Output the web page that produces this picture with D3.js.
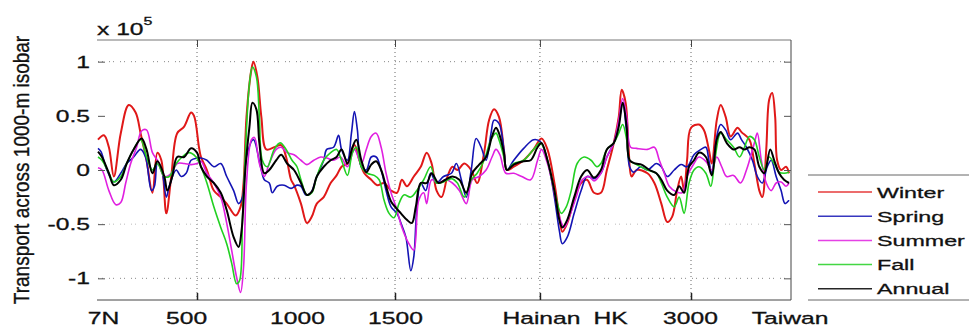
<!DOCTYPE html>
<html>
<head>
<meta charset="utf-8">
<script src="https://cdn.jsdelivr.net/npm/d3@7"></script>
<style>
  body { margin: 0; background: #fff; }
  svg text { font-family: "Liberation Sans", Arial, sans-serif; fill: #111; stroke: #111; stroke-width: 0.3px; }
</style>
</head>
<body>
<div id="chart"></div>
<script>
// distance along the 1000-m isobar (km) and transport (x 10^5)
const seriesNames = ["Winter", "Spring", "Summer", "Fall", "Annual"];
const seriesColors = ["#e01818", "#1414b4", "#e020e0", "#22d022", "#000000"];

const winter = [[0,0.28],[30,0.32],[55,0.21],[80,-0.06],[115,0.34],[155,0.6],[190,0.53],[215,0.34],[245,0.09],[275,-0.21],[300,0.16],[320,0.09],[345,-0.4],[370,-0.06],[400,0.34],[435,0.4],[470,0.53],[485,0.5],[510,0.21],[520,0.12],[550,0],[585,-0.19],[620,-0.25],[650,-0.31],[695,-0.42],[720,-0.34],[735,-0.12],[750,0.49],[775,0.93],[785,1.0],[805,0.86],[825,0.49],[850,0.19],[890,0.21],[925,0.23],[950,0.12],[975,-0.09],[990,-0.14],[1025,-0.31],[1055,-0.49],[1080,-0.43],[1105,-0.31],[1140,-0.25],[1175,-0.12],[1205,-0.05],[1230,0.03],[1260,0.06],[1295,0.23],[1320,0.09],[1345,-0.03],[1380,-0.09],[1410,-0.14],[1445,-0.12],[1480,-0.19],[1510,-0.21],[1535,-0.09],[1560,-0.15],[1595,-0.06],[1630,0.03],[1660,0.16],[1685,0.06],[1710,-0.19],[1735,-0.25],[1765,-0.06],[1790,0.03],[1815,0],[1850,0.06],[1885,0],[1915,-0.12],[1950,0.16],[1975,0.46],[2000,0.56],[2025,0.49],[2050,0.19],[2065,0],[2100,0.03],[2150,0.09],[2200,0.19],[2240,0.29],[2270,0.19],[2305,-0.12],[2330,-0.43],[2345,-0.57],[2370,-0.49],[2405,-0.28],[2440,-0.12],[2470,-0.09],[2505,-0.21],[2540,-0.21],[2570,0],[2605,0.25],[2630,0.49],[2645,0.74],[2665,0.62],[2680,0.19],[2695,-0.06],[2720,0],[2775,-0.03],[2810,-0.12],[2845,-0.31],[2875,-0.48],[2900,-0.43],[2925,-0.19],[2945,-0.06],[2960,-0.19],[2975,0.09],[2995,0.39],[3035,0.42],[3060,0.37],[3085,0.19],[3100,0.06],[3125,0.46],[3145,0.6],[3170,0.49],[3195,0.31],[3230,0.39],[3250,0.35],[3290,0.28],[3315,0.06],[3340,-0.19],[3355,-0.25],[3375,0.19],[3390,0.65],[3405,0.71],[3420,0.49],[3430,0.09],[3450,0],[3475,0.03],[3490,-0.03]];

const spring = [[0,0.2],[15,0.17],[45,0],[80,-0.11],[115,-0.03],[145,0.06],[180,0.12],[215,0.19],[240,0.12],[270,-0.19],[285,-0.15],[300,0.06],[325,-0.03],[345,-0.25],[360,-0.15],[395,0],[420,-0.06],[445,-0.03],[470,0.09],[500,0.11],[520,0.11],[550,0.09],[585,0.03],[620,0.06],[650,-0.06],[685,-0.19],[710,-0.31],[730,-0.25],[750,0.12],[785,0.28],[815,0.08],[825,0],[840,-0.09],[865,-0.12],[880,-0.21],[905,-0.15],[940,-0.14],[975,-0.17],[1005,-0.14],[1025,-0.15],[1050,-0.23],[1075,-0.21],[1105,-0.06],[1140,0.09],[1155,0.19],[1190,0.21],[1215,0.32],[1230,0.19],[1260,0.09],[1280,0.34],[1295,0.54],[1310,0.37],[1330,0.03],[1355,0],[1380,0.12],[1405,0.12],[1430,0],[1455,-0.19],[1480,-0.34],[1510,-0.4],[1530,-0.49],[1555,-0.62],[1580,-0.93],[1595,-0.8],[1610,-0.37],[1630,-0.12],[1655,-0.19],[1680,-0.03],[1710,-0.12],[1745,-0.06],[1785,-0.03],[1810,0.06],[1835,-0.09],[1860,-0.25],[1885,0],[1910,0.29],[1935,0.21],[1960,0.09],[1985,0.34],[2000,0.46],[2025,0.43],[2050,0.19],[2065,0],[2100,0.09],[2150,0.2],[2200,0.28],[2235,0.26],[2270,0.09],[2305,-0.25],[2330,-0.56],[2345,-0.68],[2370,-0.62],[2405,-0.4],[2440,-0.19],[2470,-0.06],[2505,-0.08],[2540,-0.03],[2570,0.12],[2605,0.25],[2630,0.43],[2650,0.62],[2670,0.34],[2685,0.03],[2705,-0.02],[2740,0.03],[2775,0],[2820,0.06],[2845,0.03],[2875,-0.06],[2910,0],[2945,0.05],[2975,0.03],[3010,0.14],[3045,0.19],[3070,0.21],[3085,0.09],[3100,-0.03],[3125,0.31],[3145,0.42],[3170,0.37],[3195,0.28],[3230,0.34],[3250,0.28],[3275,0.21],[3305,0.09],[3330,-0.06],[3355,-0.12],[3380,0.03],[3400,0.09],[3425,-0.06],[3450,-0.19],[3470,-0.31],[3490,-0.28]];

const summer = [[0,0.02],[20,0],[55,-0.19],[90,-0.32],[115,-0.3],[140,-0.12],[165,0.06],[195,0.21],[220,0.36],[245,0.37],[275,0.16],[300,0.09],[335,-0.06],[370,-0.03],[400,0.06],[435,0.06],[470,0.05],[500,0.06],[520,0.08],[550,-0.03],[585,-0.12],[620,-0.25],[650,-0.49],[675,-0.74],[700,-0.99],[720,-1.13],[735,-0.9],[750,-0.12],[775,0.28],[790,0.3],[815,0.06],[840,-0.06],[865,0.06],[900,0.19],[925,0.21],[955,0.16],[990,0.14],[1025,0.09],[1055,0.05],[1090,0.09],[1125,0.12],[1155,0.11],[1190,0.09],[1225,0.12],[1260,0.03],[1295,0.19],[1330,0.06],[1355,0.19],[1380,0.31],[1405,0.34],[1430,0.21],[1455,-0.03],[1480,-0.21],[1505,-0.34],[1535,-0.53],[1570,-0.68],[1595,-0.74],[1620,-0.28],[1645,-0.21],[1660,-0.31],[1685,-0.09],[1720,-0.12],[1755,-0.09],[1790,-0.12],[1825,-0.19],[1860,-0.31],[1890,-0.09],[1925,-0.06],[1960,0],[1990,0.12],[2010,0.19],[2030,0.14],[2060,-0.03],[2100,-0.03],[2140,-0.06],[2185,-0.09],[2220,0.09],[2240,0.19],[2270,0.06],[2305,-0.21],[2330,-0.43],[2355,-0.53],[2380,-0.43],[2415,-0.25],[2445,-0.09],[2480,-0.06],[2505,-0.1],[2540,-0.03],[2570,0.12],[2605,0.25],[2630,0.46],[2650,0.66],[2670,0.49],[2690,0.21],[2720,0.2],[2775,0.19],[2810,0.21],[2835,0.09],[2860,-0.03],[2885,-0.15],[2920,-0.2],[2950,-0.21],[2975,-0.06],[3010,0.06],[3035,0.12],[3070,0.08],[3100,0],[3125,0.12],[3150,0.03],[3175,-0.06],[3210,-0.05],[3245,-0.12],[3275,0],[3315,0.25],[3330,0.34],[3350,0.09],[3375,-0.12],[3400,-0.19],[3425,-0.12],[3450,-0.11],[3475,-0.15],[3490,-0.12]];

const fall = [[0,0.12],[20,0.09],[55,-0.03],[80,-0.11],[115,-0.06],[145,0.06],[180,0.19],[215,0.28],[245,0.12],[275,0],[300,0.06],[335,-0.06],[360,-0.06],[395,0.06],[425,0.12],[460,0.16],[495,0.12],[520,0.03],[550,-0.12],[585,-0.34],[620,-0.53],[650,-0.68],[675,-0.86],[700,-1.05],[715,-1.02],[730,-0.43],[745,0.19],[765,0.8],[780,0.95],[800,0.86],[815,0.49],[830,0.09],[855,0.03],[890,0.19],[920,0.25],[950,0.19],[980,0.09],[1005,0.03],[1025,-0.09],[1055,-0.23],[1080,-0.21],[1105,-0.06],[1140,0.09],[1175,0.16],[1205,0.19],[1230,0.09],[1260,-0.05],[1285,0.16],[1305,0.21],[1330,0.03],[1360,-0.03],[1395,-0.05],[1420,-0.09],[1445,-0.28],[1470,-0.4],[1495,-0.44],[1520,-0.31],[1545,-0.23],[1580,-0.25],[1610,-0.19],[1645,-0.09],[1680,0.03],[1710,-0.12],[1745,-0.11],[1785,-0.08],[1815,-0.12],[1850,-0.25],[1885,-0.09],[1915,-0.03],[1950,0.09],[1985,0.28],[2010,0.34],[2025,0.28],[2050,0.12],[2065,0],[2100,0.06],[2150,0.09],[2200,0.19],[2235,0.25],[2270,0.09],[2305,-0.19],[2340,-0.4],[2365,-0.34],[2390,-0.19],[2420,0.06],[2455,0.12],[2490,0.09],[2520,0.03],[2540,0.06],[2570,0.19],[2605,0.25],[2630,0.34],[2650,0.42],[2670,0.28],[2685,0.09],[2720,0.05],[2775,0],[2820,-0.03],[2845,-0.12],[2875,-0.25],[2910,-0.34],[2935,-0.25],[2960,-0.4],[2985,-0.12],[3010,0],[3035,0.03],[3070,-0.03],[3095,-0.15],[3115,0.09],[3145,0.34],[3175,0.28],[3210,0.21],[3240,0.12],[3265,0.21],[3290,0.31],[3315,0.28],[3340,0.12],[3365,0],[3390,0.12],[3415,0.06],[3440,-0.02],[3465,-0.03],[3490,-0.02]];

const annual = [[0,0.17],[20,0.12],[55,-0.03],[80,-0.14],[115,-0.09],[145,0.06],[180,0.19],[220,0.29],[245,0.19],[275,-0.03],[300,0.08],[335,-0.06],[350,-0.19],[375,-0.06],[400,0.12],[435,0.12],[470,0.2],[500,0.16],[520,0.03],[550,-0.06],[585,-0.12],[620,-0.21],[650,-0.37],[685,-0.62],[710,-0.71],[725,-0.56],[745,0.03],[765,0.4],[780,0.62],[800,0.56],[815,0.25],[840,-0.03],[865,0],[900,0.09],[925,0.14],[955,0.06],[990,0],[1025,-0.12],[1055,-0.23],[1080,-0.2],[1105,-0.06],[1140,0.03],[1175,0.09],[1205,0.12],[1230,0.19],[1260,0.06],[1285,0.21],[1305,0.28],[1330,0.09],[1355,-0.02],[1380,0.05],[1405,0.08],[1430,0],[1455,-0.15],[1480,-0.29],[1505,-0.35],[1530,-0.4],[1560,-0.46],[1585,-0.49],[1605,-0.34],[1630,-0.12],[1660,-0.12],[1685,-0.03],[1720,-0.12],[1755,-0.09],[1790,-0.06],[1825,-0.09],[1860,-0.21],[1890,-0.03],[1925,0.05],[1960,0.12],[1990,0.31],[2010,0.39],[2025,0.34],[2050,0.16],[2065,0],[2100,0.05],[2150,0.08],[2185,0.09],[2220,0.21],[2240,0.25],[2270,0.09],[2305,-0.19],[2330,-0.46],[2345,-0.53],[2370,-0.46],[2405,-0.25],[2440,-0.06],[2470,0],[2505,-0.07],[2540,0],[2570,0.19],[2605,0.25],[2630,0.4],[2650,0.62],[2670,0.4],[2685,0.09],[2715,0.06],[2745,0.05],[2785,0],[2820,-0.03],[2845,-0.09],[2875,-0.19],[2910,-0.23],[2935,-0.15],[2960,-0.21],[2985,0.03],[3010,0.09],[3035,0.16],[3070,0.12],[3100,-0.05],[3125,0.28],[3145,0.35],[3175,0.25],[3210,0.19],[3240,0.21],[3265,0.19],[3290,0.21],[3315,0.19],[3340,0.03],[3365,-0.03],[3395,0.19],[3415,0.09],[3440,-0.03],[3465,-0.09],[3490,-0.12]];

// x-axis labels (placed at their km position) and grid positions
const tickKm = [25, 445, 1005, 1500, 2237, 2586, 2990, 3493];
const tickLabels = ["7N", "500", "1000", "1500", "Hainan", "HK", "3000", "Taiwan"];
const gridKm = [500, 1500, 2232, 2995];
const yTicks = [-1, -0.5, 0, 0.5, 1];
const yGrid = [1, -0.5, -1];

const allSeries = [winter, spring, summer, fall, annual];

// set the dimensions of the chart
const width = 969;
const height = 327;
const margin = { top: 40, right: 178, bottom: 27, left: 98 };
const stretch = 1.45; // the text in the picture is wide

const svg = d3.select("#chart")
  .append("svg")
  .attr("width", width)
  .attr("height", height);

// set the scales
const xScale = d3.scaleLinear()
  .domain([0, 3500])
  .range([margin.left, width - margin.right]);

const yScale = d3.scaleLinear()
  .domain([-1.2, 1.2])
  .range([height - margin.bottom, margin.top]);

const x0 = xScale.range()[0], x1 = xScale.range()[1];
const y0 = yScale.range()[1], y1 = yScale.range()[0];

// dotted grid lines
svg.append("g")
  .selectAll("line")
  .data(gridKm)
  .join("line")
  .attr("x1", d => xScale(d)).attr("x2", d => xScale(d))
  .attr("y1", y0).attr("y2", y1)
  .attr("stroke", "#666")
  .attr("stroke-dasharray", "1,3");

svg.append("g")
  .selectAll("line")
  .data(yGrid)
  .join("line")
  .attr("x1", x0).attr("x2", x1)
  .attr("y1", d => yScale(d)).attr("y2", d => yScale(d))
  .attr("stroke", d => d === -0.5 ? "#bbb" : "#888")
  .attr("stroke-dasharray", "1,3,1,6");

// box lines: top, bottom and right (the left one does not show)
svg.append("line").attr("x1", x0 - 1).attr("x2", x1).attr("y1", y0).attr("y2", y0).attr("stroke", "#777");
svg.append("line").attr("x1", x0 - 1).attr("x2", x1).attr("y1", y1).attr("y2", y1).attr("stroke", "#444");
svg.append("line").attr("x1", x1).attr("x2", x1).attr("y1", y0).attr("y2", y1).attr("stroke", "#444");

// the series
const line = d3.line()
  .x(d => xScale(d[0]))
  .y(d => yScale(d[1]))
  .curve(d3.curveCatmullRom.alpha(0.5));

svg.append("g")
  .selectAll("path")
  .data(allSeries)
  .join("path")
  .attr("d", line)
  .attr("fill", "none")
  .attr("stroke", (d, i) => seriesColors[i])
  .attr("stroke-width", (d, i) => i === 0 || i === 4 ? 2 : 1.6)
  .attr("stroke-linejoin", "round");

// y axis with inward ticks
const yAxis = d3.axisLeft(yScale)
  .tickValues(yTicks)
  .tickSizeInner(-7)
  .tickSizeOuter(0)
  .tickPadding(8)
  .tickFormat(d => String(d));

const gy = svg.append("g")
  .attr("transform", `translate(${x0},0)`)
  .call(yAxis);
gy.select(".domain").remove();
gy.selectAll("line").attr("stroke", "#555");
gy.selectAll("text")
  .attr("x", -8 / stretch)
  .attr("transform", `scale(${stretch},1)`)
  .style("font-size", "17px")
  .attr("fill", "#111");

const gyr = svg.append("g")
  .attr("transform", `translate(${x1},0)`)
  .call(d3.axisRight(yScale).tickValues(yTicks).tickSizeInner(-7).tickSizeOuter(0).tickFormat(""));
gyr.select(".domain").remove();
gyr.selectAll("line").attr("stroke", "#555");

// x tick marks at the grid lines
const gxTicks = svg.append("g")
  .attr("transform", `translate(0,${y1})`)
  .call(d3.axisBottom(xScale).tickValues(gridKm).tickSizeInner(-7).tickSizeOuter(0).tickFormat(""));
gxTicks.select(".domain").remove();
gxTicks.selectAll("line").attr("stroke", "#222").attr("stroke-width", 1.5);

const gxTop = svg.append("g")
  .attr("transform", `translate(0,${y0})`)
  .call(d3.axisTop(xScale).tickValues(gridKm).tickSizeInner(-7).tickSizeOuter(0).tickFormat(""));
gxTop.select(".domain").remove();
gxTop.selectAll("line").attr("stroke", "#444");

// x labels
const xAxis = d3.axisBottom(xScale)
  .tickValues(tickKm)
  .tickSize(0)
  .tickPadding(12)
  .tickFormat((d, i) => tickLabels[i]);

const gx = svg.append("g")
  .attr("transform", `translate(0,${y1})`)
  .call(xAxis);
gx.select(".domain").remove();
gx.selectAll("text")
  .attr("transform", `scale(${stretch},1)`)
  .style("font-size", "17px")
  .attr("fill", "#111");

// exponent label
const expo = svg.append("text")
  .attr("transform", `translate(${x0 - 1},35) scale(${stretch},1)`)
  .style("font-size", "17px");
expo.append("tspan").text("x 10");
expo.append("tspan").attr("dy", -10).style("font-size", "11px").text("5");

// label for y-axis
svg.append("text")
  .attr("transform", `translate(29,${(y0 + y1) / 2}) rotate(-90) scale(1,1.2)`)
  .attr("text-anchor", "middle")
  .style("font-size", "19px")
  .text("Transport across 1000-m isobar");

// legend
const legX = 808;
const legTop = 175;
const legBottom = y1;
const rowH = 24.2;

svg.append("line").attr("x1", legX).attr("x2", width).attr("y1", legTop).attr("y2", legTop).attr("stroke", "#666");
svg.append("line").attr("x1", legX).attr("x2", width).attr("y1", legBottom).attr("y2", legBottom).attr("stroke", "#666");

const leg = svg.append("g")
  .selectAll("g")
  .data(seriesNames)
  .join("g")
  .attr("transform", (d, i) => `translate(${legX},${legTop + 17 + i * rowH})`);

leg.append("line")
  .attr("x1", 10).attr("x2", 64)
  .attr("stroke", (d, i) => seriesColors[i])
  .attr("stroke-opacity", 0.85)
  .attr("stroke-width", 1.5);

leg.append("text")
  .attr("transform", `translate(69,0) scale(1.5,1)`)
  .attr("dy", "0.36em")
  .style("font-size", "15.5px")
  .text(d => d);
</script>
</body>
</html>
